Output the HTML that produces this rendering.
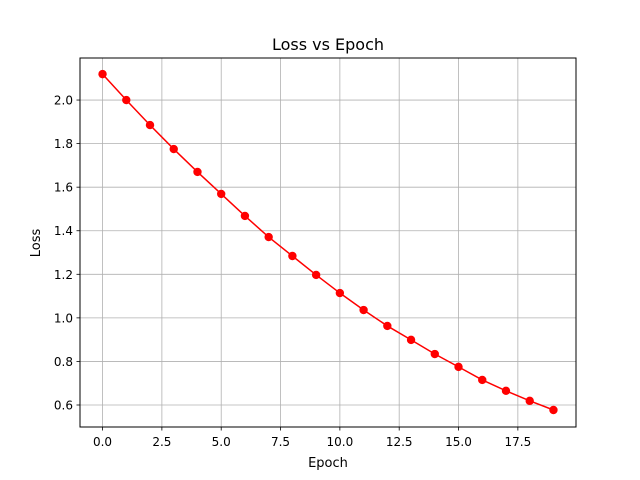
<!DOCTYPE html>
<html><head><meta charset="utf-8"><style>
body{margin:0;background:#fff}
svg{display:block;font-family:"DejaVu Sans","Liberation Sans",sans-serif}
</style></head><body>
<svg id="chart" width="640" height="480">
<rect width="640" height="480" fill="#fff"/>
<g id="grid"></g>
<g id="ticks"></g>
<g id="series"></g>
<rect x="80" y="58" width="496" height="369" fill="none" stroke="#000" stroke-width="1"/>
<text x="328" y="50" text-anchor="middle" font-size="16">Loss vs Epoch</text>
<text x="328" y="467" text-anchor="middle" font-size="13">Epoch</text>
<text x="40" y="243" text-anchor="middle" font-size="13" transform="rotate(-90 40 243)">Loss</text>
</svg>
<script>
const epochs=[0,1,2,3,4,5,6,7,8,9,10,11,12,13,14,15,16,17,18,19];
const losses=[2.119,2.0,1.885,1.775,1.670,1.569,1.468,1.371,1.284,1.197,1.114,1.036,0.963,0.899,0.834,0.775,0.715,0.665,0.619,0.577];
const xTicks=[0,2.5,5,7.5,10,12.5,15,17.5];
const xTickLabels=["0.0","2.5","5.0","7.5","10.0","12.5","15.0","17.5"];
const yTicks=[0.6,0.8,1.0,1.2,1.4,1.6,1.8,2.0];
const yTickLabels=["0.6","0.8","1.0","1.2","1.4","1.6","1.8","2.0"];
const L=80,R=576,T=58,B=427;
const xmin=-0.95,xmax=19.95,ymin=0.499,ymax=2.193;
const sx=v=>L+(v-xmin)/(xmax-xmin)*(R-L);
const sy=v=>B-(v-ymin)/(ymax-ymin)*(B-T);
const NS="http://www.w3.org/2000/svg";
function mk(tag,attrs,parent){const e=document.createElementNS(NS,tag);for(const k in attrs)e.setAttribute(k,attrs[k]);parent.appendChild(e);return e;}
const grid=document.getElementById('grid'),ticks=document.getElementById('ticks'),series=document.getElementById('series');
xTicks.forEach((t,i)=>{const x=sx(t);
 const g=mk('line',{x1:x,x2:x,y1:T,y2:B,stroke:'#b0b0b0','stroke-width':0.8},grid);
 
 
 const tk=mk('line',{x1:x,x2:x,y1:B,y2:B+3.5,stroke:'#000','stroke-width':0.8},ticks);
 
 
 const tx=mk('text',{x:x,y:B+19,'text-anchor':'middle','font-size':12},ticks);tx.textContent=xTickLabels[i];
 
 
});
yTicks.forEach((t,i)=>{const y=sy(t);
 const g=mk('line',{x1:L,x2:R,y1:y,y2:y,stroke:'#b0b0b0','stroke-width':0.8},grid);
 
 
 const tk=mk('line',{x1:L-3.5,x2:L,y1:y,y2:y,stroke:'#000','stroke-width':0.8},ticks);
 
 
 const tx=mk('text',{x:L-7,y:y+4.5,'text-anchor':'end','font-size':12},ticks);tx.textContent=yTickLabels[i];
 
 
});
const pts=epochs.map((e,i)=>sx(e)+','+sy(losses[i])).join(' ');
const pl=mk('polyline',{points:pts,fill:'none',stroke:'#ff0000','stroke-width':1.5},series);


epochs.forEach((e,i)=>{const c=mk('circle',{cx:sx(e),cy:sy(losses[i]),r:4.2,fill:'#ff0000'},series);
 
 
});
</script>
</body></html>
